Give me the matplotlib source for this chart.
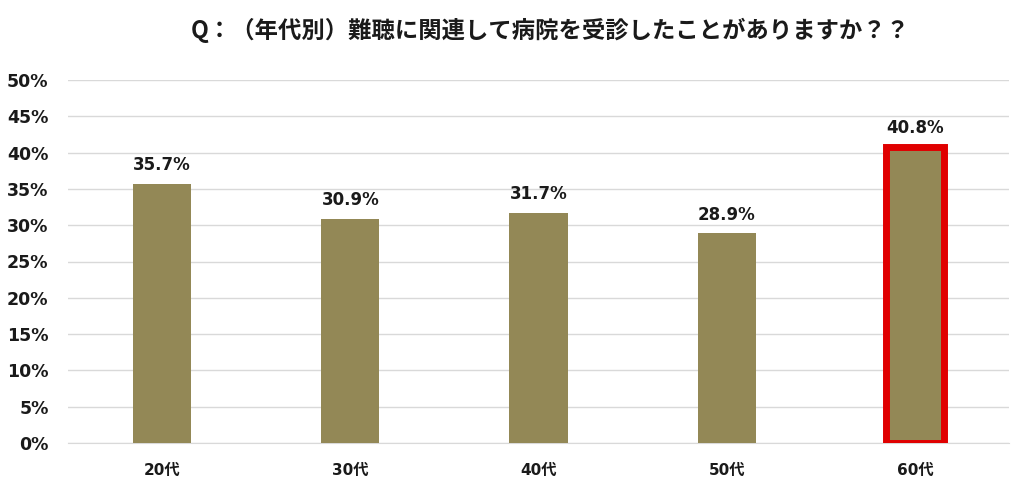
import matplotlib
matplotlib.use("Agg")
import matplotlib.pyplot as plt
from matplotlib.ticker import FuncFormatter

categories = ["20代", "30代", "40代", "50代", "60代"]
values = [35.7, 30.9, 31.7, 28.9, 40.8]
yticks = [0, 5, 10, 15, 20, 25, 30, 35, 40, 45, 50]
title = "Q：（年代別）難聴に関連して病院を受診したことがありますか？？"

fig = plt.figure(figsize=(10.24, 4.91), dpi=100)
ax = fig.add_axes([68/1024, 1-443/491, (1009-68)/1024, (443-80)/491])

x = list(range(len(categories)))
bars = ax.bar(x, values, width=0.31, color="#938856", zorder=3)
hl = bars[-1]
hl.set_edgecolor("#e00000")
hl.set_linewidth(5)

for xi, v in zip(x, values):
    ax.text(xi, v + 1.3, f"{v:.1f}%", ha="center", va="bottom",
            fontsize=12, fontweight="bold", color="#1a1a1a",
            family="DejaVu Sans")

ax.set_ylim(0, 50)
ax.set_xlim(-0.5, len(categories) - 0.5)
ax.set_yticks(yticks)
ax.yaxis.set_major_formatter(FuncFormatter(lambda v, p: f"{int(v)}%"))
ax.set_xticks(x)
ax.set_xticklabels(categories)
for lbl in ax.get_yticklabels():
    lbl.set_fontsize(12.5)
    lbl.set_fontweight("bold")
    lbl.set_color("#1a1a1a")
    lbl.set_family("DejaVu Sans")
for lbl in ax.get_xticklabels():
    lbl.set_fontsize(11)
    lbl.set_fontweight("bold")
    lbl.set_color("#1a1a1a")
    lbl.set_family(['DejaVu Sans', 'Noto Sans CJK JP'])

ax.grid(axis="y", color="#d9d9d9", linewidth=1, zorder=0)
ax.tick_params(axis="both", length=0)
ax.tick_params(axis="y", pad=14)
ax.tick_params(axis="x", pad=14)
for s in ["top", "right", "left"]:
    ax.spines[s].set_visible(False)
ax.spines["bottom"].set_color("#d9d9d9")

fig.text(550/1024, 1-30/491, title, ha="center", va="center", fontsize=16.8,
         fontweight="bold", family=['Noto Sans CJK JP', 'DejaVu Sans'], color="#1a1a1a")

fig.savefig("out.png", dpi=100)
